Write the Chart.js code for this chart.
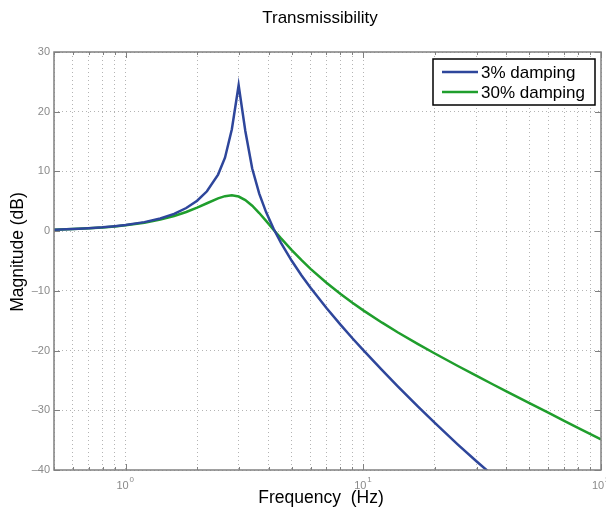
<!DOCTYPE html>
<html>
<head>
<meta charset="utf-8">
<script src="https://cdn.jsdelivr.net/npm/chart.js@4/dist/chart.umd.min.js"></script>
<style>
  html, body { margin: 0; padding: 0; background: #fff; }
  #wrap { width: 606px; height: 512px; }
</style>
</head>
<body>
<div id="wrap"><canvas id="chart" width="606" height="512"></canvas></div>
<script>
const freqHz = [0.5, 0.6, 0.7, 0.8, 0.9, 1.0, 1.2, 1.4, 1.6, 1.8, 2.0, 2.2, 2.45, 2.62, 2.8, 2.99,
  3.19, 3.41, 3.65, 3.9, 4.2, 4.5, 5.0, 5.5, 6, 7, 8, 9, 10, 12, 14, 17, 20, 25, 30, 35,
  40, 50, 60, 70, 80, 100];

// magnitude in dB
const damping3 = [0.24, 0.35, 0.49, 0.64, 0.82, 1.02, 1.51, 2.13, 2.90, 3.87, 5.09, 6.67, 9.47, 12.30, 17.06, 24.43,
  16.77, 10.48, 6.29, 3.19, 0.35, -1.93, -4.97, -7.42, -9.49, -12.88, -15.62, -17.93, -19.93, -23.28, -26.03, -29.38, -32.11, -35.74, -38.58, -40.88,
  -42.80, null, null, null, null, null];
const damping30 = [0.24, 0.35, 0.48, 0.62, 0.79, 0.98, 1.42, 1.94, 2.54, 3.21, 3.94, 4.67, 5.48, 5.86, 6.00, 5.79,
  5.21, 4.26, 3.03, 1.71, 0.20, -1.18, -3.18, -4.87, -6.31, -8.65, -10.50, -12.00, -13.27, -15.33, -16.97, -18.92, -20.49, -22.58, -24.25, -25.64,
  -26.83, -28.81, -30.41, -31.76, -32.93, -34.88];

const seriesNames = ['3% damping', '30% damping'];
const yTicks = [-40, -30, -20, -10, 0, 10, 20, 30];
const xGrid = [0.5, 0.6, 0.7, 0.8, 0.9, 1, 2, 3, 4, 5, 6, 7, 8, 9, 10, 20, 30, 40, 50, 60, 70, 80, 90, 100];
const xMajor = [[1, '0'], [10, '1'], [100, '2']];

const BLUE = '#2e469b';
const GREEN = '#1f9e2c';
const FONT = '"Liberation Sans", Arial, Helvetica, sans-serif';

const toPoints = arr => freqHz.map((f, i) => ({x: f, y: arr[i]}));

const decorations = {
  id: 'decorations',
  afterDraw(chart) {
    const ctx = chart.ctx;
    const a = chart.chartArea;
    const xs = chart.scales.x, ys = chart.scales.y;
    ctx.save();

    // inward tick marks
    ctx.strokeStyle = '#808080';
    ctx.lineWidth = 1;
    ctx.beginPath();
    xGrid.forEach(v => {
      const px = Math.round(xs.getPixelForValue(v)) + 0.5;
      const len = (v === 1 || v === 10 || v === 100) ? 6 : 3;
      ctx.moveTo(px, a.bottom); ctx.lineTo(px, a.bottom - len);
      ctx.moveTo(px, a.top); ctx.lineTo(px, a.top + len);
    });
    yTicks.forEach(v => {
      const py = Math.round(ys.getPixelForValue(v)) + 0.5;
      ctx.moveTo(a.left, py); ctx.lineTo(a.left + 6, py);
      ctx.moveTo(a.right, py); ctx.lineTo(a.right - 6, py);
    });
    ctx.stroke();

    // box
    ctx.lineWidth = 1.5;
    ctx.strokeRect(a.left, a.top, a.right - a.left, a.bottom - a.top);

    // x tick labels 10^n
    ctx.fillStyle = '#8a8a8a';
    xMajor.forEach(([v, e]) => {
      const px = xs.getPixelForValue(v);
      ctx.font = '11px ' + FONT;
      ctx.textAlign = 'center';
      ctx.textBaseline = 'alphabetic';
      ctx.fillText('10', px - 3, a.bottom + 19);
      ctx.font = '8px ' + FONT;
      ctx.textAlign = 'left';
      ctx.fillText(e, px + 4, a.bottom + 12);
    });

    // titles
    ctx.fillStyle = '#000';
    ctx.textAlign = 'center';
    ctx.textBaseline = 'middle';
    ctx.font = '17px ' + FONT;
    ctx.fillText('Transmissibility', 320, 18);
    ctx.font = '17.5px ' + FONT;
    ctx.fillText('Frequency  (Hz)', 321, 498);
    ctx.save();
    ctx.translate(18, 252);
    ctx.rotate(-Math.PI / 2);
    ctx.fillText('Magnitude (dB)', 0, 0);
    ctx.restore();

    // legend
    const lx = 433, ly = 59, lw = 162, lh = 46;
    ctx.fillStyle = '#fff';
    ctx.fillRect(lx, ly, lw, lh);
    ctx.strokeStyle = '#000';
    ctx.lineWidth = 1.5;
    ctx.strokeRect(lx, ly, lw, lh);
    [BLUE, GREEN].forEach((c, i) => {
      const yy = ly + 13 + i * 20;
      ctx.strokeStyle = c;
      ctx.lineWidth = 2.5;
      ctx.beginPath();
      ctx.moveTo(lx + 9, yy); ctx.lineTo(lx + 45, yy);
      ctx.stroke();
      ctx.fillStyle = '#000';
      ctx.font = '17px ' + FONT;
      ctx.textAlign = 'left';
      ctx.textBaseline = 'middle';
      ctx.fillText(seriesNames[i], lx + 48, yy + 1);
    });
    ctx.restore();
  }
};

new Chart(document.getElementById('chart'), {
  type: 'line',
  data: {
    datasets: [
      {label: seriesNames[0], data: toPoints(damping3), borderColor: BLUE, borderWidth: 2.5,
       pointRadius: 0, tension: 0, fill: false},
      {label: seriesNames[1], data: toPoints(damping30), borderColor: GREEN, borderWidth: 2.5,
       pointRadius: 0, tension: 0, fill: false}
    ]
  },
  options: {
    responsive: false,
    animation: false,
    layout: {padding: {top: 52, right: 5, left: 0, bottom: 0}},
    plugins: {legend: {display: false}, title: {display: false}, tooltip: {enabled: false}},
    scales: {
      x: {
        type: 'logarithmic',
        min: 0.5, max: 100,
        afterBuildTicks: s => { s.ticks = xGrid.map(v => ({value: v})); },
        afterFit: s => { s.height = 42; },
        ticks: {display: false},
        grid: {color: '#b4b4b4', lineWidth: 1, drawTicks: false},
        border: {display: false, dash: [1, 3]}
      },
      y: {
        min: -40, max: 30,
        afterBuildTicks: s => { s.ticks = yTicks.map(v => ({value: v})); },
        afterFit: s => { s.width = 54; },
        ticks: {
          color: '#8a8a8a', padding: 4,
          font: {size: 11, family: FONT},
          callback: v => (v < 0 ? '\u2013' + Math.abs(v) : String(v))
        },
        grid: {color: '#b4b4b4', lineWidth: 1, drawTicks: false},
        border: {display: false, dash: [1, 3]}
      }
    }
  },
  plugins: [decorations]
});
</script>
</body>
</html>
